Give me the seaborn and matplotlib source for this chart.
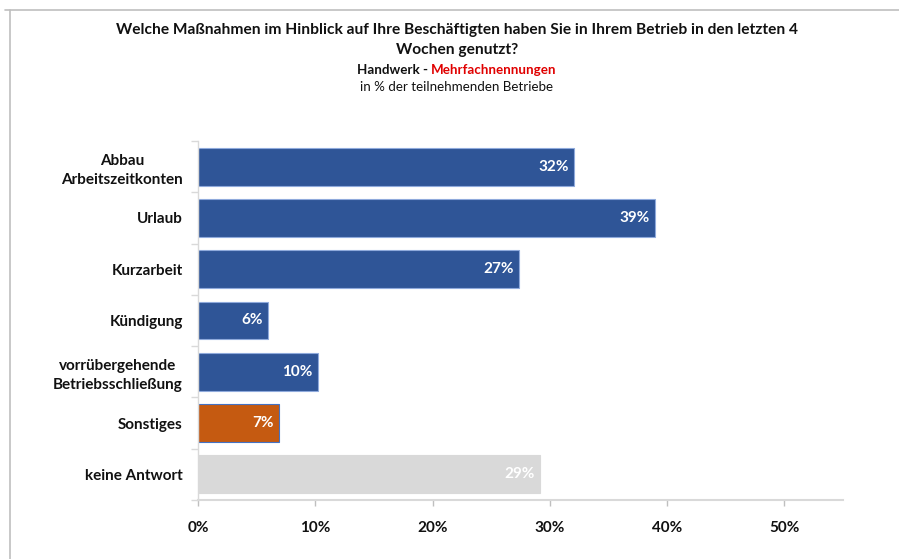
import matplotlib
matplotlib.use("Agg")
import matplotlib.pyplot as plt
import seaborn as sns
import pandas as pd
from matplotlib.lines import Line2D

categories = ["Abbau\nArbeitszeitkonten", "Urlaub", "Kurzarbeit", "Kündigung",
              "vorrübergehende\nBetriebsschließung", "Sonstiges", "keine Antwort"]
values = [32.1, 39.0, 27.4, 6.0, 10.2, 6.9, 29.2]
labels = ["32%", "39%", "27%", "6%", "10%", "7%", "29%"]
colors = ["#2F5597", "#2F5597", "#2F5597", "#2F5597", "#2F5597", "#C55A11", "#D9D9D9"]
edge_colors = ["#8FAADC", "#8FAADC", "#8FAADC", "#8FAADC", "#8FAADC", "#4472C4", "#D9D9D9"]
xticks = [0, 10, 20, 30, 40, 50]
xticklabels = ["0%", "10%", "20%", "30%", "40%", "50%"]

sns.set_theme(style="white")
plt.rcParams["font.family"] = ["Lato", "DejaVu Sans"]

df = pd.DataFrame({"cat": categories, "val": values})

fig = plt.figure(figsize=(8.99, 5.59), dpi=100)
W, H = 899, 559
ax = fig.add_axes([198 / W, 1 - 500 / H, (843 - 198) / W, (500 - 141) / H])

sns.barplot(data=df, y="cat", x="val", hue="cat", palette=colors, legend=False,
            orient="h", width=0.74, ax=ax, saturation=1)
for p, ec in zip(ax.patches, edge_colors):
    p.set_edgecolor(ec)
    p.set_linewidth(0.8)

for i, (v, lab) in enumerate(zip(values, labels)):
    ax.annotate(lab, xy=(v, i), xytext=(-4, 0), textcoords="offset points",
                ha="right", va="center", color="white", fontsize=11, fontweight="bold")

ax.set_xlim(0, 55)
ax.set_ylim(6.5, -0.5)
ax.set_xticks(xticks)
ax.set_xticklabels(xticklabels, fontsize=11, fontweight="bold", color="#111111")
ax.set_yticks(range(len(categories)))
ax.set_yticklabels(categories, fontsize=11, fontweight="bold", color="#111111",
                   multialignment="center", linespacing=1.45)
ax.set_xlabel("")
ax.set_ylabel("")
ax.tick_params(axis="y", length=0, pad=11)
ax.tick_params(axis="x", length=4, color="#BFBFBF", width=1, pad=11, direction="out")
ax.xaxis.set_ticks_position("bottom")
ax.set_yticks([i - 0.5 for i in range(len(categories) + 1)], minor=True)
ax.tick_params(axis="y", which="minor", length=5, color="#D9D9D9", width=1, direction="out", left=True)

for s in ["top", "right"]:
    ax.spines[s].set_visible(False)
ax.spines["left"].set_color("#D9D9D9")
ax.spines["bottom"].set_color("#D9D9D9")
ax.spines["left"].set_linewidth(1)
ax.spines["bottom"].set_linewidth(1.5)

# frame lines
fig.add_artist(Line2D([5 / W, 1], [1 - 10 / H, 1 - 10 / H], color="#BFBFBF", lw=1.2))
fig.add_artist(Line2D([10 / W, 10 / W], [1 - 10 / H, 0], color="#BFBFBF", lw=1.2))

cx = 457 / W
fig.text(cx, 1 - 30 / H, "Welche Maßnahmen im Hinblick auf Ihre Beschäftigten haben Sie in Ihrem Betrieb in den letzten 4",
         ha="center", va="center", fontsize=11.2, fontweight="bold", color="#111111")
fig.text(cx, 1 - 50 / H, "Wochen genutzt?", ha="center", va="center", fontsize=11.2,
         fontweight="bold", color="#111111")
t1 = fig.text(0, 1 - 70 / H, "Handwerk - ", ha="left", va="center", fontsize=9.6,
              fontweight="bold", color="#111111")
t2 = fig.text(0, 1 - 70 / H, "Mehrfachnennungen", ha="left", va="center", fontsize=9.6,
              fontweight="bold", color="#E00000")
fig.text(cx, 1 - 87 / H, "in % der teilnehmenden Betriebe", ha="center", va="center",
         fontsize=9.6, color="#111111")

fig.canvas.draw()
r = fig.canvas.get_renderer()
w1 = t1.get_window_extent(r).width
w2 = t2.get_window_extent(r).width
start = 457 - (w1 + w2) / 2
t1.set_x(start / W)
t2.set_x((start + w1) / W)

fig.savefig("out.png", dpi=100)
